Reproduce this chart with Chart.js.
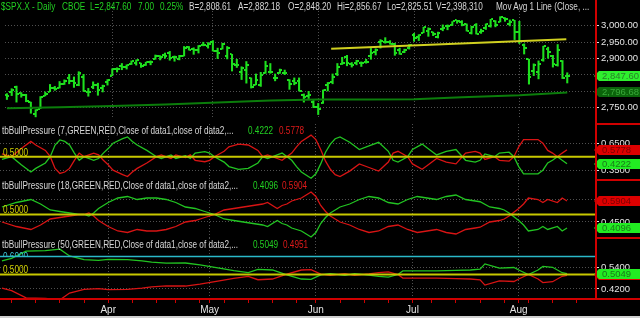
<!DOCTYPE html>
<html>
<head>
<meta charset="utf-8">
<script src="https://cdn.jsdelivr.net/npm/chart.js@4.4.1/dist/chart.umd.min.js"></script>
<style>
  html, body { margin: 0; padding: 0; background: #000; }
  #wrap { position: relative; width: 640px; height: 318px; overflow: hidden; background: #000; }
  canvas { position: absolute; left: 0; }
  .t { position: absolute; font: 10px "Liberation Sans", Arial, sans-serif; line-height: 11px; white-space: pre; transform: scaleX(0.82); transform-origin: 0 0; z-index: 3; }
  .g { color: #22d022; } .w { color: #d6d6d6; } .r { color: #e01a1a; } .y { color: #d2d200; } .c { color: #3cc8d8; }
  .rl { position: absolute; background: #d00000; z-index: 2; }
</style>
</head>
<body>
<div id="wrap">
  <canvas id="c0" width="640" height="124" style="top:0"></canvas>
  <canvas id="c1" width="640" height="56" style="top:124px"></canvas>
  <canvas id="c2" width="640" height="58" style="top:180px"></canvas>
  <canvas id="c3" width="640" height="80" style="top:238px"></canvas>

  <!-- red frame -->
  <div class="rl" style="left:595px;top:0;width:2px;height:300px"></div>
  <div class="rl" style="left:0;top:298px;width:640px;height:2px"></div>
  <div class="rl" style="left:596px;top:123px;width:44px;height:2px"></div>
  <div class="rl" style="left:596px;top:179px;width:44px;height:2px"></div>
  <div class="rl" style="left:596px;top:237px;width:44px;height:2px"></div>
  <div style="position:absolute;left:0;top:316px;width:640px;height:2px;background:#cfcfcf"></div>

  <!-- header -->
  <div class="t g" style="left:1px;top:1px">$SPX.X - Daily</div>
  <div class="t g" style="left:62px;top:1px">CBOE</div>
  <div class="t g" style="left:90px;top:1px">L=2,847.60</div>
  <div class="t g" style="left:138px;top:1px">7.00</div>
  <div class="t g" style="left:160px;top:1px">0.25%</div>
  <div class="t w" style="left:189px;top:1px">B=2,808.61</div>
  <div class="t w" style="left:238px;top:1px">A=2,882.18</div>
  <div class="t w" style="left:288px;top:1px">O=2,848.20</div>
  <div class="t w" style="left:337px;top:1px">Hi=2,856.67</div>
  <div class="t w" style="left:387px;top:1px">Lo=2,825.51</div>
  <div class="t w" style="left:436px;top:1px">V=2,398,310</div>
  <div class="t w" style="left:496px;top:1px">Mov Avg 1 Line (Close, ...</div>

  <!-- sub panel titles -->
  <div class="t w" style="left:2px;top:125px">tbBullPressure (7,GREEN,RED,Close of data1,close of data2,...</div>
  <div class="t g" style="left:248px;top:125px">0.4222</div>
  <div class="t r" style="left:279px;top:125px">0.5778</div>
  <div class="t y" style="left:3px;top:147px">0.5000</div>

  <div class="t w" style="left:2px;top:180px">tbBullPressure (18,GREEN,RED,Close of data1,close of data2,...</div>
  <div class="t g" style="left:253px;top:180px">0.4096</div>
  <div class="t r" style="left:282px;top:180px">0.5904</div>
  <div class="t y" style="left:3px;top:204px">0.5000</div>

  <div style="position:absolute;left:0;top:251px;width:40px;height:5px;overflow:hidden;z-index:3">
    <div class="t c" style="left:3px;top:0">0.6000</div>
  </div>
  <div class="t w" style="left:2px;top:239px">tbBullPressure (50,GREEN,RED,Close of data1,close of data2,...</div>
  <div class="t g" style="left:253px;top:239px">0.5049</div>
  <div class="t r" style="left:283px;top:239px">0.4951</div>
  <div class="t y" style="left:3px;top:264px">0.5000</div>
</div>

<script>
// x axis: one slot per trading day, Feb 28 .. Aug 15 2019 (0..117)
const X_MIN = -0.4, X_MAX = 123;
const monthTicks = [22, 43, 65, 85, 107];
const monthNames = ['Apr', 'May', 'Jun', 'Jul', 'Aug'];
const weekTicks = [2, 7, 12, 17, 22, 27, 32, 36, 41, 43, 46, 51, 56, 61, 65, 70, 75, 80, 85, 89, 94, 99, 104, 107, 109, 114, 119];

// daily bars
const opens = [2788,2798,2814,2794,2790,2766,2731,2747,2787,2799,2810,2810,2822,2841,2831,2820,2845,2797,2812,2820,2809,2829,
  2848,2869,2877,2874,2884,2888,2886,2881,2891,2900,2908,2912,2916,2904,2898,2909,2934,2929,2925,2941,2937,
  2952,2922,2929,2908,2913,2880,2859,2864,2841,2820,2820,2855,2858,2841,2855,2856,2836,2832,2831,2790,2786,2767,
  2752,2763,2818,2829,2852,2885,2904,2882,2887,2887,2889,2907,2920,2950,2952,2951,2946,2926,2919,2932,
  2971,2965,2979,2985,2980,2966,2989,3000,3003,3017,3013,3006,2978,3004,2981,2994,2999,3016,3013,3024,3007,3017,
  2981,2943,2898,2862,2859,2897,2930,2908,2880,2894,2848.2];
const highs = [2793,2808,2816,2796,2791,2767,2744,2784,2798,2821,2815,2830,2835,2852,2844,2860,2852,2809,2829,2825,2819,2836,
  2869,2872,2885,2881,2893,2896,2886,2889,2893,2911,2909,2917,2922,2908,2910,2937,2937,2933,2940,2950,2949,
  2955,2932,2947,2937,2913,2898,2875,2891,2841,2853,2858,2892,2885,2853,2868,2865,2836,2841,2841,2792,2800,2772,
  2763,2804,2827,2853,2885,2904,2910,2888,2895,2890,2898,2931,2930,2958,2964,2955,2947,2932,2929,2943,
  2977,2973,2996,2994,2981,2981,3003,3003,3013,3017,3016,3006,2999,3007,2990,3006,3020,3016,3028,3025,3018,3017,
  3014,2945,2898,2884,2893,2938,2935,2910,2943,2894,2856.7];
const lows = [2775,2787,2767,2782,2768,2733,2722,2747,2786,2799,2803,2810,2821,2823,2812,2817,2800,2785,2808,2788,2798,2819,
  2848,2859,2866,2868,2882,2880,2873,2879,2881,2898,2896,2901,2895,2892,2896,2908,2926,2913,2917,2939,2932,
  2923,2900,2929,2899,2862,2873,2836,2825,2810,2820,2815,2855,2855,2832,2855,2851,2806,2820,2801,2767,2778,2750,
  2729,2763,2801,2823,2848,2882,2878,2874,2881,2876,2886,2898,2911,2932,2947,2944,2910,2913,2918,2929,
  2953,2955,2979,2968,2970,2963,2985,2988,3001,3008,3000,2984,2975,2975,2977,2989,2996,2997,3012,3014,3000,2958,
  2946,2914,2822,2848,2838,2892,2901,2874,2877,2839,2825.5];
const closes = [2784.5,2803.7,2792.8,2789.7,2771.5,2748.9,2743.1,2783.3,2791.5,2810.9,2808.5,2822.5,2832.9,2832.6,2824.2,2854.9,2800.7,2798.4,2818.5,2805.4,2815.4,2834.4,
  2867.2,2867.2,2873.4,2879.4,2892.7,2895.8,2878.2,2888.2,2888.3,2907.4,2905.6,2907.1,2900.5,2905.0,2908.0,2933.7,2927.3,2926.2,2939.9,2943.0,2945.8,
  2923.7,2917.5,2945.6,2932.5,2884.1,2879.4,2870.7,2881.4,2811.9,2834.4,2851.0,2876.3,2859.5,2840.2,2864.4,2856.3,2822.2,2826.1,2802.4,2783.0,2788.9,2752.1,
  2744.5,2803.3,2826.2,2843.5,2873.3,2886.7,2885.7,2879.8,2891.6,2887.0,2889.7,2917.8,2926.5,2954.2,2950.5,2945.4,2917.4,2913.8,2924.9,2941.8,
  2964.3,2973.0,2995.8,2990.4,2976.0,2979.6,2993.1,2999.9,3013.8,3014.3,3004.0,2984.4,2995.1,2976.6,2985.0,3005.5,3019.6,3003.7,3025.9,3021.0,3013.2,2980.4,
  2953.6,2932.1,2844.7,2881.8,2884.0,2938.1,2918.7,2882.7,2926.3,2840.6,2847.6];

// moving average and drawn trendline (read at these bar slots)
const maIdx = [0, 11, 22, 33, 44, 55, 65, 75, 85, 95, 107, 117];
const maVals = [2748, 2751, 2755, 2760, 2766, 2772, 2775, 2775, 2776, 2782, 2788, 2796.68];
const trendIdx = [67.7, 116.8];
const trendVals = [2930, 2959];
const priceTicks = [2750, 2800, 2850, 2900, 2950, 3000];

// tbBullPressure (7)
const p1Idx = [0,2,4,6,7,9,10,11,12,13,14,15,16,17,19,20,21,22,23,25,26,27,28,30,32,33,35,36,38,39,40,42,43,44,46,47,49,51,53,54,
  55,57,58,60,61,62,64,65,66,67,68,69,70,72,74,76,78,80,81,82,84,85,87,88,90,92,94,96,98,99,100,102,103,105,106,107,108,110,111,112,113,114,115,116,117];
const p1Bull = [0.47,0.50,0.41,0.33,0.37,0.43,0.50,0.63,0.686,0.67,0.63,0.54,0.46,0.50,0.46,0.48,0.54,0.59,0.65,0.70,
  0.72,0.67,0.63,0.57,0.50,0.48,0.52,0.48,0.51,0.48,0.54,0.556,0.54,0.50,0.44,0.39,0.36,0.37,0.43,0.50,
  0.48,0.52,0.54,0.46,0.39,0.33,0.26,0.31,0.42,0.55,0.64,0.70,0.72,0.66,0.58,0.62,0.66,0.56,0.46,0.44,
  0.50,0.58,0.64,0.60,0.52,0.56,0.58,0.46,0.44,0.46,0.53,0.50,0.54,0.55,0.50,0.39,0.31,0.31,0.31,0.35,
  0.43,0.46,0.50,0.46,0.4222];
const p1Bear = [0.53,0.50,0.59,0.67,0.63,0.57,0.50,0.37,0.314,0.33,0.37,0.46,0.54,0.50,0.54,0.52,0.46,0.41,0.35,0.30,
  0.28,0.33,0.37,0.43,0.50,0.52,0.48,0.52,0.49,0.52,0.46,0.444,0.46,0.50,0.56,0.61,0.64,0.63,0.57,0.50,
  0.52,0.48,0.46,0.54,0.61,0.67,0.74,0.69,0.58,0.45,0.36,0.30,0.28,0.34,0.42,0.38,0.34,0.44,0.54,0.56,
  0.50,0.42,0.36,0.40,0.48,0.44,0.42,0.54,0.56,0.54,0.47,0.50,0.46,0.45,0.50,0.61,0.69,0.69,0.69,0.65,
  0.57,0.54,0.50,0.54,0.5778];
const p1Ticks = [0.35, 0.65];

// tbBullPressure (18)
const p2Idx = [0,3,6,8,10,12,14,16,17,18,19,20,22,24,26,28,30,32,34,36,38,40,42,43,44,46,48,50,52,54,
  55,57,58,59,60,62,63,64,65,66,67,68,69,70,72,74,76,78,80,82,84,86,88,90,92,94,96,98,99,101,103,104,105,107,108,109,111,112,113,115,116,117];
const p2Bull = [0.55,0.58,0.60,0.57,0.53,0.52,0.51,0.50,0.50,0.49,0.51,0.54,0.58,0.61,0.62,0.60,0.61,0.61,0.60,0.58,
  0.55,0.54,0.52,0.51,0.50,0.47,0.46,0.45,0.44,0.43,0.42,0.46,0.44,0.43,0.41,0.39,0.37,0.35,0.38,0.44,
  0.48,0.51,0.53,0.55,0.57,0.60,0.62,0.61,0.58,0.57,0.60,0.62,0.61,0.60,0.62,0.63,0.60,0.59,0.585,0.55,
  0.54,0.53,0.51,0.46,0.43,0.39,0.40,0.42,0.40,0.42,0.39,0.4096];
const p2Bear = [0.45,0.42,0.40,0.43,0.47,0.48,0.49,0.50,0.50,0.51,0.49,0.46,0.42,0.39,0.38,0.40,0.39,0.39,0.40,0.42,
  0.45,0.46,0.48,0.49,0.50,0.53,0.54,0.55,0.56,0.57,0.58,0.54,0.56,0.57,0.59,0.61,0.63,0.65,0.62,0.56,
  0.52,0.49,0.47,0.45,0.43,0.40,0.38,0.39,0.42,0.43,0.40,0.38,0.39,0.40,0.38,0.37,0.40,0.41,0.415,0.45,
  0.46,0.47,0.49,0.54,0.57,0.61,0.60,0.58,0.60,0.58,0.61,0.5904];
const p2Ticks = [0.45, 0.6];

// tbBullPressure (50)
const p3Idx = [0,2,5,9,12,14,17,20,22,26,29,31,34,38,41,45,48,51,53,56,59,62,64,66,68,71,73,76,78,80,
  82,83,87,90,94,97,99,100,103,106,107,109,111,112,114,116,117];
const p3Bull = [0.576,0.59,0.63,0.633,0.641,0.603,0.583,0.578,0.584,0.583,0.576,0.569,0.563,0.564,0.554,0.536,0.522,0.51,0.529,0.525,
  0.498,0.475,0.473,0.498,0.505,0.495,0.505,0.497,0.49,0.485,0.50,0.52,0.52,0.52,0.523,0.525,0.53,0.559,0.535,0.539,
  0.525,0.50,0.525,0.545,0.54,0.51,0.5049];
const p3Bear = [0.424,0.41,0.37,0.367,0.359,0.397,0.417,0.422,0.416,0.417,0.424,0.431,0.437,0.436,0.446,0.464,0.478,0.49,0.471,0.475,
  0.502,0.525,0.527,0.502,0.495,0.505,0.495,0.503,0.51,0.515,0.50,0.48,0.48,0.48,0.477,0.475,0.47,0.441,0.465,0.461,
  0.475,0.50,0.475,0.455,0.46,0.49,0.4951];
const p3Ticks = [0.42, 0.54];
const midLevel = 0.5;
const upperLevel3 = 0.6;

const BAR = '#1ee01e', MA = '#0b7d0b', TREND = '#d0d020', GRN = '#22c422', RED = '#d81414', YEL = '#c8c800', CYAN = '#2ab8c8';
const GRID = '#505050';
const FONT = '"Liberation Sans", Arial, sans-serif';

const pts = (xs, ys) => xs.map((x, k) => ({ x, y: ys[k] }));
const level = v => [{ x: X_MIN, y: v }, { x: X_MAX, y: v }];
const last = a => a[a.length - 1];
const fmtPrice = v => v.toLocaleString('en-US', { minimumFractionDigits: 2, maximumFractionDigits: 2 });
const fmtRatio = v => v.toFixed(4);

// little open/close ticks for the bars
function tickImg(left) {
  const c = document.createElement('canvas');
  c.width = 5; c.height = 2;
  const g = c.getContext('2d');
  g.fillStyle = BAR;
  g.fillRect(left ? 0 : 3, 0, 2, 2);
  return c;
}

// last value flags on the right axis
const flagPlugin = {
  id: 'flags',
  afterDraw(chart, args, opts) {
    const ctx = chart.ctx, ys = chart.scales.y, x0 = chart.chartArea.right;
    (opts.items || []).forEach(f => {
      const y = Math.round(ys.getPixelForValue(f.value));
      ctx.save();
      ctx.fillStyle = f.bg;
      ctx.beginPath();
      ctx.moveTo(x0 - 2, y);
      ctx.lineTo(x0 + 3, y - 5);
      ctx.lineTo(640, y - 5);
      ctx.lineTo(640, y + 5);
      ctx.lineTo(x0 + 3, y + 5);
      ctx.closePath();
      ctx.fill();
      ctx.fillStyle = f.fg;
      ctx.font = '9.5px ' + FONT;
      ctx.textBaseline = 'middle';
      ctx.fillText(f.text, x0 + 6, y + 0.5);
      ctx.restore();
    });
  }
};

function xAxis(bottom) {
  return {
    type: 'linear', min: X_MIN, max: X_MAX, offset: false,
    afterBuildTicks: s => { s.ticks = (bottom ? weekTicks : monthTicks).map(v => ({ value: v })); },
    ticks: {
      display: bottom, autoSkip: false, maxRotation: 0, padding: 1,
      color: '#e4e4e4', font: { size: 10, family: FONT },
      callback: v => { const k = monthTicks.indexOf(v); return k >= 0 ? monthNames[k] : ''; }
    },
    grid: {
      offset: false,
      color: c => (c.tick && monthTicks.includes(c.tick.value)) ? GRID : 'rgba(0,0,0,0)',
      drawTicks: bottom, tickLength: 4, tickColor: '#d00000', tickWidth: 1
    },
    border: { display: false, dash: [1, 2] },
    afterFit: s => { s.height = bottom ? 19 : 0; s.paddingLeft = 0; s.paddingRight = 0; }
  };
}

function yAxis(min, max, ticks, fmt) {
  return {
    position: 'right', min, max,
    afterBuildTicks: s => { s.ticks = ticks.map(v => ({ value: v })); },
    ticks: { autoSkip: false, padding: 2, color: '#e4e4e4', font: { size: 9.5, family: FONT }, callback: fmt },
    grid: { color: GRID, drawTicks: true, tickLength: 3, tickColor: '#e4e4e4', tickWidth: 1 },
    border: { display: false, dash: [1, 2] },
    afterFit: s => { s.width = 44; s.paddingTop = 0; s.paddingBottom = 0; }
  };
}

function baseOptions(scales, flags) {
  return {
    responsive: false, animation: false, events: [], devicePixelRatio: 1,
    layout: { padding: 0 },
    plugins: { legend: { display: false }, tooltip: { enabled: false }, flags: { items: flags } },
    scales
  };
}

const lineDs = (data, color, width, order) => ({
  type: 'line', data, borderColor: color, borderWidth: width, pointRadius: 0, tension: 0, order
});

// price panel
new Chart(document.getElementById('c0'), {
  type: 'line',
  data: {
    datasets: [
      lineDs(pts(trendIdx, trendVals), TREND, 2, 0),
      lineDs(pts(maIdx, maVals), MA, 2, 1),
      { type: 'line', data: pts(opens.map((_, i) => i), opens), showLine: false, pointStyle: tickImg(true), pointRadius: 2, order: 2 },
      { type: 'line', data: pts(closes.map((_, i) => i), closes), showLine: false, pointStyle: tickImg(false), pointRadius: 2, order: 2 },
      { type: 'bar', data: highs.map((h, i) => ({ x: i, y: [lows[i], h] })), backgroundColor: BAR, barThickness: 1.4, grouped: false, borderWidth: 0, order: 3 }
    ]
  },
  options: baseOptions({
    x: xAxis(false),
    y: yAxis(2715.45, 3063.76, priceTicks, fmtPrice)
  }, [
    { value: last(maVals), bg: '#0a640a', fg: '#3aa83a', text: fmtPrice(last(maVals)) },
    { value: last(closes), bg: '#2ef02e', fg: '#2a7d2a', text: fmtPrice(last(closes)) }
  ]),
  plugins: [flagPlugin]
});

function pressurePanel(id, idx, bull, bear, range, ticks, bottom, extra) {
  const datasets = [
    lineDs(level(midLevel), YEL, 2, 0),
    lineDs(pts(idx, bear), RED, 1.3, 2),
    lineDs(pts(idx, bull), GRN, 1.3, 3)
  ];
  if (extra) datasets.push(lineDs(level(extra), CYAN, 1.5, 1));
  new Chart(document.getElementById(id), {
    type: 'line',
    data: { datasets },
    options: baseOptions({
      x: xAxis(bottom),
      y: yAxis(range[0], range[1], ticks, fmtRatio)
    }, [
      { value: last(bear), bg: '#dd0000', fg: '#7a0000', text: fmtRatio(last(bear)) },
      { value: last(bull), bg: '#22ec22', fg: '#1a7a1a', text: fmtRatio(last(bull)) }
    ]),
    plugins: [flagPlugin]
  });
}

pressurePanel('c1', p1Idx, p1Bull, p1Bear, [0.2411, 0.8633], p1Ticks, false);
pressurePanel('c2', p2Idx, p2Bull, p2Bear, [0.3433, 0.73], p2Ticks, false);
pressurePanel('c3', p3Idx, p3Bull, p3Bear, [0.3639, 0.7028], p3Ticks, true, upperLevel3);
</script>
</body>
</html>
